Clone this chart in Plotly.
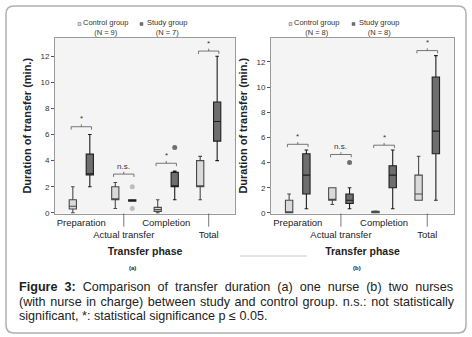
import plotly.graph_objects as go

W, H = 472, 337

categories = ["Preparation", "Actual transfer", "Completion", "Total"]

# Panel (a): one nurse
a_ctrl_lo = [0.0, 0.33, 0.0, 1.0]
a_ctrl_q1 = [0.3, 1.0, 0.1, 2.0]
a_ctrl_med = [0.5, 1.0, 0.25, 2.0]
a_ctrl_q3 = [1.0, 2.0, 0.42, 4.0]
a_ctrl_hi = [2.0, 2.33, 1.0, 4.33]

a_stud_lo = [2.0, 0.9, 1.0, 4.0]
a_stud_q1 = [2.9, 0.9, 2.0, 5.5]
a_stud_med = [3.0, 1.0, 2.0, 7.0]
a_stud_q3 = [4.5, 1.0, 3.1, 8.5]
a_stud_hi = [6.0, 1.0, 3.2, 12.0]

a_out_cat = [1, 1, 2]
a_out_val = [2.0, 0.33, 5.0]
a_out_col = ["#bdbdbd", "#bdbdbd", "#6e6e6e"]

a_sig = ["*", "n.s.", "*", "*"]
a_sig_h = [6.6, 2.97, 3.8, 12.4]

# Panel (b): two nurses
b_ctrl_lo = [0.0, 0.67, 0.0, 1.0]
b_ctrl_q1 = [0.0, 1.0, 0.0, 1.0]
b_ctrl_med = [0.05, 1.0, 0.05, 1.5]
b_ctrl_q3 = [1.0, 2.0, 0.12, 3.0]
b_ctrl_hi = [1.5, 2.0, 0.15, 4.5]

b_stud_lo = [0.33, 0.33, 0.33, 1.0]
b_stud_q1 = [1.5, 0.75, 2.0, 4.7]
b_stud_med = [3.0, 1.0, 3.0, 6.5]
b_stud_q3 = [4.7, 1.5, 3.75, 10.8]
b_stud_hi = [5.0, 2.0, 5.0, 12.5]

b_out_cat = [1]
b_out_val = [4.0]
b_out_col = ["#6e6e6e"]

b_sig = ["*", "n.s.", "*", "*"]
b_sig_h = [5.45, 4.64, 5.38, 12.9]

legend_a = ["Control group<br>(N = 9)", "Study group<br>(N = 7)"]
legend_b = ["Control group<br>(N = 8)", "Study group<br>(N = 8)"]

CTRL_FILL = "#dadada"
STUD_FILL = "#6e6e6e"
OFF = 0.2
BW = 0.17

fig = go.Figure()

def px(x):
    return x / W

def py(y):
    return 1 - y / H

panels = [
    dict(xa="x", ya="y", ctrl=(a_ctrl_lo, a_ctrl_q1, a_ctrl_med, a_ctrl_q3, a_ctrl_hi),
         stud=(a_stud_lo, a_stud_q1, a_stud_med, a_stud_q3, a_stud_hi),
         out=(a_out_cat, a_out_val, a_out_col), sig=a_sig, sigh=a_sig_h),
    dict(xa="x2", ya="y2", ctrl=(b_ctrl_lo, b_ctrl_q1, b_ctrl_med, b_ctrl_q3, b_ctrl_hi),
         stud=(b_stud_lo, b_stud_q1, b_stud_med, b_stud_q3, b_stud_hi),
         out=(b_out_cat, b_out_val, b_out_col), sig=b_sig, sigh=b_sig_h),
]

shapes = []
annotations = []

for p in panels:
    idx = list(range(len(categories)))
    for stats, off, fill, lc in [(p["ctrl"], -OFF, CTRL_FILL, "#4a4a4a"),
                                 (p["stud"], OFF, STUD_FILL, "#1e1e1e")]:
        lo, q1, med, q3, hi = stats
        fig.add_trace(go.Box(
            x=[i + off for i in idx], q1=q1, median=med, q3=q3,
            lowerfence=lo, upperfence=hi, width=BW, whiskerwidth=0.5,
            fillcolor=fill, line=dict(color=lc, width=1.1),
            xaxis=p["xa"], yaxis=p["ya"], showlegend=False, hoverinfo="skip"))
    oc, ov, ocol = p["out"]
    fig.add_trace(go.Scatter(
        x=[c + OFF for c in oc], y=ov, mode="markers",
        marker=dict(size=5, color=ocol, line=dict(width=0)),
        xaxis=p["xa"], yaxis=p["ya"], showlegend=False, hoverinfo="skip"))
    # significance brackets
    for i, (s, h) in enumerate(zip(p["sig"], p["sigh"])):
        x0, x1 = i - OFF - 0.04, i + OFF + 0.04
        d = 0.22
        shapes.append(dict(type="path", xref=p["xa"], yref=p["ya"],
                           path=f"M {x0},{h-d} L {x0},{h} L {x1},{h} L {x1},{h-d} M {i},{h} L {i},{h+0.18}",
                           line=dict(color="#555555", width=0.8)))
        annotations.append(dict(x=i, y=h + 0.1, xref=p["xa"], yref=p["ya"], text=s,
                                showarrow=False, yanchor="bottom", xanchor="center",
                                font=dict(family="Liberation Sans", size=8, color="#333333")))
    # long ticks for staggered labels
    for i in (1, 3):
        shapes.append(dict(type="line", xref=p["xa"], yref=p["ya"] + " domain",
                           x0=i, x1=i, y0=0, y1=-0.075,
                           line=dict(color="#555555", width=0.8)))

axis_common_x = dict(
    tickvals=list(range(len(categories))),
    ticktext=[c if k % 2 == 0 else "<br>" + c for k, c in enumerate(categories)],
    tickangle=0, automargin=False,
    range=[-0.62, 3.62], showgrid=False, zeroline=False, ticks="",
    showline=True, linecolor="#9a9a9a", mirror=True,
    tickfont=dict(family="Liberation Sans", size=9.5, color="#222222"),
    title=dict(text="<b>Transfer phase</b>", font=dict(family="Liberation Sans", size=10.5, color="#222222"), standoff=8),
)
axis_common_y = dict(
    showgrid=False, zeroline=False, ticks="outside", ticklen=3, tickcolor="#555555",
    tickvals=[0, 2, 4, 6, 8, 10, 12], automargin=False,
    showline=True, linecolor="#9a9a9a", mirror=True,
    tickfont=dict(family="Liberation Sans", size=8, color="#333333"),
    title=dict(text="<b>Duration of transfer (min.)</b>", font=dict(family="Liberation Sans", size=11, color="#222222"), standoff=6),
)

ydom = [py(213.5), py(38)]
fig.update_layout(
    width=W, height=H, margin=dict(l=0, r=0, t=0, b=0, autoexpand=False),
    paper_bgcolor="white", plot_bgcolor="#f4f4f4",
    xaxis=dict(domain=[px(55), px(235)], anchor="y", **axis_common_x),
    yaxis=dict(domain=ydom, anchor="x", range=[-0.05, 13.4], **axis_common_y),
    xaxis2=dict(domain=[px(271), px(454)], anchor="y2", **axis_common_x),
    yaxis2=dict(domain=ydom, anchor="x2", range=[-0.05, 13.9], **axis_common_y),
    showlegend=False,
)

# legends above panels
for names, cx in [(legend_a, (105, 167)), (legend_b, (316, 379))]:
    for name, x, fill in zip(names, cx, (CTRL_FILL, STUD_FILL)):
        annotations.append(dict(x=px(x), y=py(28), xref="paper", yref="paper", text=name,
                                showarrow=False, align="center", xanchor="center", yanchor="middle",
                                font=dict(family="Liberation Sans", size=7.5, color="#333333")))
        shapes.append(dict(type="rect", xref="paper", yref="paper",
                           x0=px(x - 27), x1=px(x - 24), y0=py(25.5), y1=py(22.5),
                           fillcolor=fill, line=dict(color="#666666", width=0.5)))

# panel labels
for lab, x in [("<b>(a)</b>", 132), ("<b>(b)</b>", 357)]:
    annotations.append(dict(x=px(x), y=py(268), xref="paper", yref="paper", text=lab,
                            showarrow=False, xanchor="center", yanchor="middle",
                            font=dict(family="Liberation Sans", size=6, color="#222222")))

# caption (first two lines justified by widening word gaps)
cap_lines = [
    "<b>Figure 3:</b> Comparison of transfer duration (a) one nurse (b) two nurses",
    "(with nurse in charge) between study and control group. n.s.: not statistically",
    "significant, *: statistical significance p ≤ 0.05.",
]
cap_gap = [" &nbsp;", " &#8202;", " "]
for k, (line, gap) in enumerate(zip(cap_lines, cap_gap)):
    txt = line.replace(" ", gap)
    annotations.append(dict(x=px(17), y=py(287 + 14.5 * k), xref="paper", yref="paper", text=txt,
                            showarrow=False, xanchor="left", yanchor="middle",
                            font=dict(family="Liberation Sans", size=12.6, color="#222222")))

# frame
x0, y0, x1, y1, r = px(6), py(6), px(466), py(333), 8
rx, ry = r / W, r / H
frame = (f"M {x0+rx},{y0} L {x1-rx},{y0} Q {x1},{y0} {x1},{y0-ry} L {x1},{y1+ry} "
         f"Q {x1},{y1} {x1-rx},{y1} L {x0+rx},{y1} Q {x0},{y1} {x0},{y1+ry} "
         f"L {x0},{y0-ry} Q {x0},{y0} {x0+rx},{y0} Z")
shapes.append(dict(type="path", xref="paper", yref="paper", path=frame,
                   line=dict(color="#b0b0b0", width=1.5)))
shapes.append(dict(type="line", xref="paper", yref="paper", x0=px(240), x1=px(307),
                   y0=py(256), y1=py(256), line=dict(color="#c8c8c8", width=1)))

fig.update_layout(shapes=shapes, annotations=annotations)
fig.write_html("out.html", config={"displayModeBar": False},
               post_script="document.body.style.margin='0px';")
